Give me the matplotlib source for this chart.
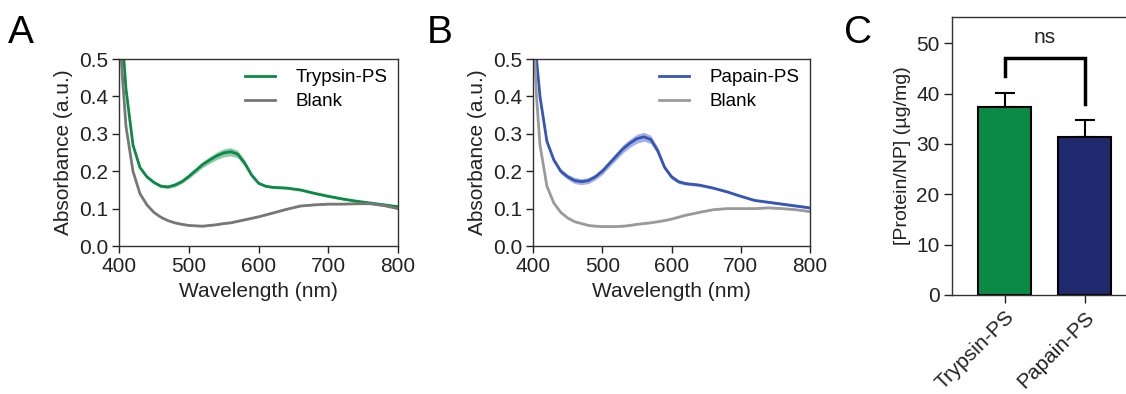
import numpy as np
import matplotlib
matplotlib.use("Agg")
import matplotlib.pyplot as plt

plt.rcParams['font.family'] = ['Liberation Sans', 'DejaVu Sans']

# spectra
wl = [400, 405, 410, 420, 430, 440, 450, 460, 470, 480, 490, 500, 510, 520, 530, 540, 550,
      560, 570, 580, 590, 600, 610, 620, 640, 660, 680, 700, 720, 740, 760, 780, 800]
trypsin = [0.62, 0.55, 0.42, 0.27, 0.21, 0.185, 0.17, 0.16, 0.158, 0.163, 0.172, 0.186, 0.202, 0.218,
           0.23, 0.241, 0.249, 0.252, 0.246, 0.222, 0.19, 0.168, 0.16, 0.157, 0.155, 0.15, 0.141,
           0.133, 0.126, 0.12, 0.115, 0.11, 0.105]
trypsin_sd = [0.005, 0.005, 0.004, 0.004, 0.004, 0.004, 0.004, 0.004, 0.004, 0.005, 0.005, 0.006,
              0.007, 0.008, 0.009, 0.01, 0.011, 0.011, 0.01, 0.008, 0.006, 0.004, 0.003, 0.003,
              0.003, 0.003, 0.003, 0.003, 0.003, 0.003, 0.003, 0.004, 0.004]
blank_a = [0.6, 0.45, 0.32, 0.2, 0.14, 0.11, 0.09, 0.077, 0.068, 0.062, 0.058, 0.055, 0.054,
           0.053, 0.055, 0.057, 0.06, 0.062, 0.066, 0.07, 0.074, 0.078, 0.083, 0.088, 0.098,
           0.107, 0.11, 0.112, 0.112, 0.113, 0.113, 0.108, 0.1]

papain = [0.62, 0.5, 0.4, 0.28, 0.23, 0.2, 0.185, 0.175, 0.172, 0.175, 0.185, 0.2, 0.22, 0.24,
          0.26, 0.275, 0.287, 0.292, 0.285, 0.255, 0.21, 0.185, 0.172, 0.167, 0.163, 0.155,
          0.145, 0.133, 0.122, 0.117, 0.112, 0.107, 0.102]
papain_sd = [0.006, 0.006, 0.006, 0.006, 0.006, 0.007, 0.007, 0.008, 0.008, 0.008, 0.008, 0.009,
             0.009, 0.01, 0.011, 0.011, 0.012, 0.012, 0.011, 0.009, 0.007, 0.006, 0.005, 0.004,
             0.004, 0.003, 0.003, 0.003, 0.003, 0.003, 0.003, 0.003, 0.003]
blank_b = [0.6, 0.4, 0.27, 0.16, 0.115, 0.09, 0.075, 0.065, 0.06, 0.055, 0.053, 0.052, 0.052,
           0.052, 0.053, 0.055, 0.058, 0.06, 0.062, 0.065, 0.068, 0.072, 0.077, 0.082, 0.09,
           0.097, 0.1, 0.1, 0.1, 0.102, 0.1, 0.097, 0.092]

# bar panel
groups = ['Trypsin-PS', 'Papain-PS']
loading = [37.3, 31.3]
loading_err = [2.9, 3.5]

green = '#0b8a45'
blue = '#3556b8'
navy = '#1f2a6e'
txt = '#222222'

fig = plt.figure(figsize=(11.26, 3.94), dpi=100)

def spectrum(ax, y, sd, blank, col, bcol, name):
    x = np.array(wl)
    y = np.array(y)
    sd = np.array(sd)
    ax.fill_between(x, y - sd, y + sd, color=col, alpha=0.45, lw=0)
    ax.plot(x, y, color=col, lw=2, label=name)
    ax.fill_between(x, np.array(blank) - 0.002, np.array(blank) + 0.002, color=bcol, alpha=0.4, lw=0)
    ax.plot(x, blank, color=bcol, lw=2, label='Blank')
    ax.set_xlim(400, 800)
    ax.set_ylim(0, 0.5)
    ax.set_xticks([400, 500, 600, 700, 800])
    ax.set_yticks([0, 0.1, 0.2, 0.3, 0.4, 0.5])
    ax.set_yticklabels(['0.0', '0.1', '0.2', '0.3', '0.4', '0.5'])
    ax.tick_params(direction='out', length=5, width=1, labelsize=15, colors=txt, pad=3)
    for s in ax.spines.values():
        s.set_linewidth(1)
        s.set_color('#333333')
    ax.set_xlabel('Wavelength (nm)', fontsize=15, color=txt, labelpad=4)
    ax.set_ylabel('Absorbance (a.u.)', fontsize=15, color=txt, labelpad=4)
    ax.legend(frameon=False, loc='upper right', fontsize=13.5, handlelength=1.6,
              borderaxespad=0.15, labelspacing=0.35, handletextpad=1.1)

ax1 = fig.add_axes([0.1057, 0.3756, 0.2478, 0.4746])
spectrum(ax1, trypsin, trypsin_sd, blank_a, green, '#777777', 'Trypsin-PS')
ax2 = fig.add_axes([0.4734, 0.3756, 0.246, 0.4746])
spectrum(ax2, papain, papain_sd, blank_b, blue, '#9a9a9a', 'Papain-PS')

ax3 = fig.add_axes([0.8455, 0.2513, 0.1577, 0.7056])
xpos = np.arange(len(groups))
ax3.bar(xpos, loading, width=0.66, color=[green, navy], edgecolor='black', linewidth=1.5, zorder=2)
ax3.errorbar(xpos, loading, yerr=[[0, 0], loading_err], fmt='none', ecolor='black',
             elinewidth=1.5, capsize=7, capthick=1.5, zorder=1)
ax3.set_xlim(-0.66, 1.56)
ax3.set_ylim(0, 55.2)
ax3.set_yticks([0, 10, 20, 30, 40, 50])
ax3.set_xticks(xpos)
ax3.set_xticklabels(groups, rotation=45, ha='right', rotation_mode='anchor')
ax3.tick_params(direction='out', length=6, width=1, labelsize=15, colors=txt, pad=3)
for s in ax3.spines.values():
    s.set_linewidth(1)
    s.set_color('#333333')
ax3.set_ylabel('[Protein/NP] (\u00b5g/mg)', fontsize=14, color=txt, labelpad=4)
# significance bracket
ax3.plot([0, 0, 1, 1], [43.5, 47, 47, 37.9], color='black', lw=2.5, solid_joinstyle='miter')
ax3.text(0.5, 49.3, 'ns', ha='center', va='bottom', fontsize=15, color=txt)

fig.text(0.007, 0.89, 'A', fontsize=28)
fig.text(0.379, 0.89, 'B', fontsize=28)
fig.text(0.750, 0.89, 'C', fontsize=28)

fig.savefig('out.png', dpi=100)
